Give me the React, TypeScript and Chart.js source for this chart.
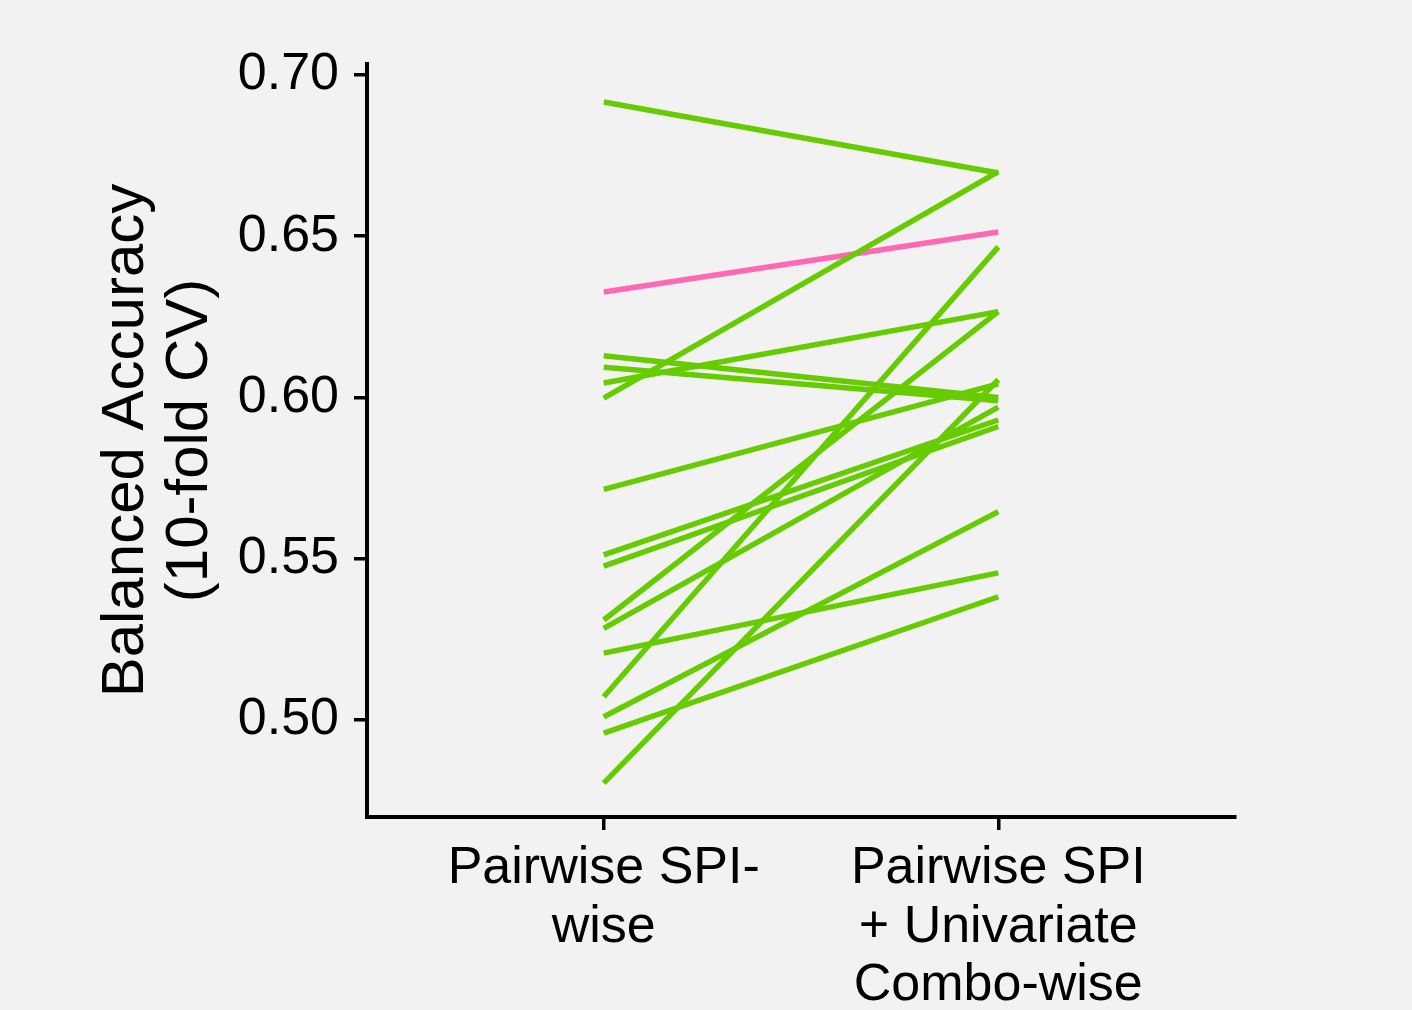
import React, { useEffect, useRef } from "react";
import { Chart, registerables } from "chart.js";

Chart.register(...registerables);

const categories: string[][] = [
  ["Pairwise SPI-", "wise"],
  ["Pairwise SPI", "+ Univariate", "Combo-wise"],
];
const categoryPositions = [1, 2];

const pairwiseValues = [
  0.6916, 0.6129, 0.6094, 0.6045, 0.5998, 0.5715, 0.5512, 0.5477,
  0.531, 0.5284, 0.5207, 0.5072, 0.501, 0.4959, 0.4804,
];
const comboValues = [
  0.6696, 0.6, 0.599, 0.6266, 0.67, 0.6042, 0.593, 0.591,
  0.6266, 0.597, 0.5456, 0.6467, 0.5646, 0.5382, 0.6055,
];
const highlightPairwise = 0.6327;
const highlightCombo = 0.6513;

const yTicks = [0.5, 0.55, 0.6, 0.65, 0.7];
const yTitle = ["Balanced Accuracy", "(10-fold CV)"];

const GREEN = "#66CC00";
const PINK = "#FF69B4";

export default function App() {
  const ref = useRef<HTMLCanvasElement | null>(null);

  useEffect(() => {
    document.body.style.margin = "0";
    document.body.style.background = "#F2F2F2";
    if (!ref.current) return;

    const datasets: any[] = pairwiseValues.map((v, i) => ({
      data: [
        { x: categoryPositions[0], y: v },
        { x: categoryPositions[1], y: comboValues[i] },
      ],
      borderColor: GREEN,
      borderWidth: 5.5,
      pointRadius: 0,
      borderCapStyle: "butt",
    }));
    datasets.push({
      data: [
        { x: categoryPositions[0], y: highlightPairwise },
        { x: categoryPositions[1], y: highlightCombo },
      ],
      borderColor: PINK,
      borderWidth: 5.5,
      pointRadius: 0,
      borderCapStyle: "butt",
    });

    const font = { family: "'Liberation Sans', Arial, sans-serif", size: 52 };

    const chart = new Chart(ref.current, {
      type: "line",
      data: { datasets },
      options: {
        animation: false,
        responsive: false,
        maintainAspectRatio: false,
        layout: { padding: { top: 64, right: 177, left: 0, bottom: 0 } },
        plugins: { legend: { display: false }, tooltip: { enabled: false } },
        scales: {
          x: {
            type: "linear",
            min: 0.4,
            max: 2.6,
            afterBuildTicks: (s: any) => {
              s.ticks = categoryPositions.map((v) => ({ value: v }));
            },
            afterFit: (s: any) => {
              s.height = 193;
            },
            ticks: {
              color: "#000",
              font: { ...font, lineHeight: 1.12 },
              padding: 10,
              maxRotation: 0,
              autoSkip: false,
              callback: (v: any) => {
                const idx = categoryPositions.indexOf(Number(v));
                return idx >= 0 ? categories[idx] : "";
              },
            },
            grid: {
              drawOnChartArea: false,
              drawTicks: true,
              tickLength: 13,
              color: "#000",
              lineWidth: 3.5,
            },
            border: { display: true, color: "#000", width: 4 },
          },
          y: {
            type: "linear",
            min: 0.4699,
            max: 0.7034,
            afterBuildTicks: (s: any) => {
              s.ticks = yTicks.map((v) => ({ value: v }));
            },
            afterFit: (s: any) => {
              s.width = 367;
            },
            ticks: {
              color: "#000",
              font,
              padding: 15,
              callback: (v: any) => Number(v).toFixed(2),
            },
            grid: {
              drawOnChartArea: false,
              drawTicks: true,
              tickLength: 13,
              color: "#000",
              lineWidth: 3.5,
            },
            border: { display: true, color: "#000", width: 4 },
            title: {
              display: true,
              text: yTitle,
              color: "#000",
              font: { family: font.family, size: 60, lineHeight: 1.06 },
              padding: { top: 95, bottom: 0 },
            },
          },
        },
      } as any,
    });
    return () => chart.destroy();
  }, []);

  return (
    <div style={{ width: 1412, height: 1010, background: "#F2F2F2" }}>
      <canvas ref={ref} width={1412} height={1010} style={{ display: "block" }} />
    </div>
  );
}
